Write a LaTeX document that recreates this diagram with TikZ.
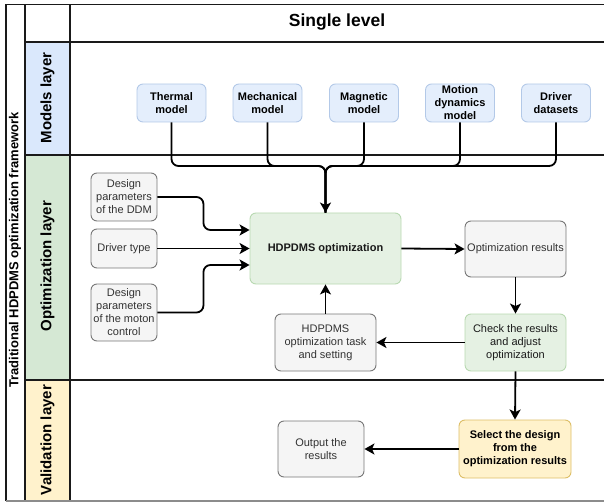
\documentclass[tikz,border=0pt]{standalone}
\usepackage{fontspec}
\setmainfont{Liberation Sans}
\usetikzlibrary{arrows.meta}

\definecolor{bluefill}{HTML}{DAE8FC}
\definecolor{boxblue}{HTML}{E4EEFC}
\definecolor{blueline}{HTML}{B3C9E8}
\definecolor{greenfill}{HTML}{D5E8D4}
\definecolor{boxgreen}{HTML}{E5F1E3}
\definecolor{greenline}{HTML}{B8D9B1}
\definecolor{yellowfill}{HTML}{FFF2CC}
\definecolor{yellowline}{HTML}{DDBE66}
\definecolor{greyfill}{HTML}{F5F5F5}
\definecolor{greyline}{HTML}{777777}
\definecolor{greytext}{HTML}{333333}
\definecolor{frameline}{HTML}{1A1A1A}

\tikzset{
  frame/.style={draw=frameline, line width=1.4pt},
  box/.style={rounded corners=6pt, align=center, inner sep=0pt,
    font=\fontsize{11}{13}\selectfont},
  modelbox/.style={box, fill=boxblue, draw=blueline, line width=0.9pt,
    minimum width=69pt, minimum height=38pt,
    font=\fontsize{11}{13}\selectfont\bfseries},
  greybox/.style={box, fill=greyfill, draw=greyline, line width=0.9pt,
    text=greytext},
  greenbox/.style={box, fill=boxgreen, draw=greenline, line width=0.9pt,
    text=frameline},
  yellowbox/.style={box, fill=yellowfill, draw=yellowline, line width=0.9pt,
    font=\fontsize{11}{13}\selectfont\bfseries},
  lanelabel/.style={rotate=90, font=\fontsize{15}{17}\selectfont\bfseries},
  conn/.style={draw=black, line width=1.8pt, rounded corners=7pt},
  arr/.style={conn, -{Stealth[length=10pt, width=11pt, inset=2.5pt]}},
}

\begin{document}
\begin{tikzpicture}[x=1pt, y=-1pt]
\useasboundingbox (0,0) rectangle (604,502);

% lane header cells
\fill[bluefill]   (25,42)  rectangle (70,155);
\fill[greenfill]  (25,155) rectangle (70,380);
\fill[yellowfill] (25,380) rectangle (70,500);

% pool and lane frame
\draw[frame] (6,501) -- (6,4.5) -- (604,4.5);
\draw[frame] (25,4.5) -- (25,501);
\draw[frame] (70,4.5) -- (70,501);
\draw[frame] (25,42) -- (604,42);
\draw[frame] (25,155) -- (604,155);
\draw[frame] (25,380) -- (604,380);
\draw[draw=black!45, line width=1.4pt] (6,501) -- (604,501);

% titles
\node[font=\fontsize{17.5}{20}\selectfont\bfseries] (title) at (337,22) {Single level};
\node[rotate=90, font=\fontsize{13}{15}\selectfont\bfseries] (pool) at (15,250)
  {Traditional HDPDMS optimization framework};
\node[lanelabel] (lmodels) at (47.5,98) {Models layer};
\node[lanelabel] (lopt) at (47.5,266) {Optimization layer};
\node[lanelabel] (lval) at (47.5,440) {Validation layer};

% models layer
\node[modelbox] (thermal) at (171.5,103) {Thermal\\model};
\node[modelbox] (mech)    at (267.5,103) {Mechanical\\model};
\node[modelbox] (magn)    at (364,103)   {Magnetic\\model};
\node[modelbox] (motion)  at (460,103)   {Motion\\dynamics\\model};
\node[modelbox] (driver)  at (556,103)   {Driver\\datasets};

% optimization layer
\node[greenbox, minimum width=151pt, minimum height=71pt,
      font=\fontsize{11}{13}\selectfont\bfseries] (hd) at (325.5,248.5) {HDPDMS optimization};
\node[greybox, minimum width=66pt, minimum height=48pt] (ddm) at (124,197)
  {Design\\parameters\\of the DDM};
\node[greybox, minimum width=66pt, minimum height=39pt] (dtype) at (124,248.5) {Driver type};
\node[greybox, minimum width=66pt, minimum height=57pt] (ctrl) at (124,312.5)
  {Design\\parameters\\of the moton\\control};
\node[greybox, minimum width=101pt, minimum height=56pt] (res) at (515.5,249) {Optimization results};
\node[greenbox, minimum width=101pt, minimum height=57pt] (check) at (515.5,342.5)
  {Check the results\\and adjust\\optimization};
\node[greybox, minimum width=101pt, minimum height=57pt] (task) at (325.5,342.5)
  {HDPDMS\\optimization task\\and setting};

% validation layer
\node[yellowbox, minimum width=112pt, minimum height=58pt] (select) at (515,449)
  {Select the design\\from the\\optimization results};
\node[greybox, minimum width=86pt, minimum height=56pt] (out) at (321,449)
  {Output the\\results};

% model bus into the optimization
\coordinate (bus) at (325.5,166);
\draw[conn] (thermal.south) |- (bus) -- (hd.north);
\draw[conn] (mech.south)    |- (bus) -- (hd.north);
\draw[conn] (magn.south)    |- (bus) -- (hd.north);
\draw[conn] (motion.south)  |- (bus) -- (hd.north);
\draw[arr]  (driver.south)  |- (bus) -- (hd.north);

% inputs of the optimization
\draw[arr] (ddm.east) -- ++(46,0) |- ([yshift=18.5pt]hd.west);
\draw[arr] (dtype.east) -- (hd.west);
\draw[arr] (ctrl.east) -- ++(46,0) |- ([yshift=-16.5pt]hd.west);

% optimization loop
\draw[arr] (hd.east) -- (res.west);
\draw[arr] (res.south) -- (check.north);
\draw[arr] (check.west) -- (task.east);
\draw[arr, line width=1.2pt] (task.north) -- (hd.south);

% validation
\draw[arr] (check.south) -- (select.north);
\draw[arr] (select.west) -- (out.east);
\end{tikzpicture}
\end{document}
